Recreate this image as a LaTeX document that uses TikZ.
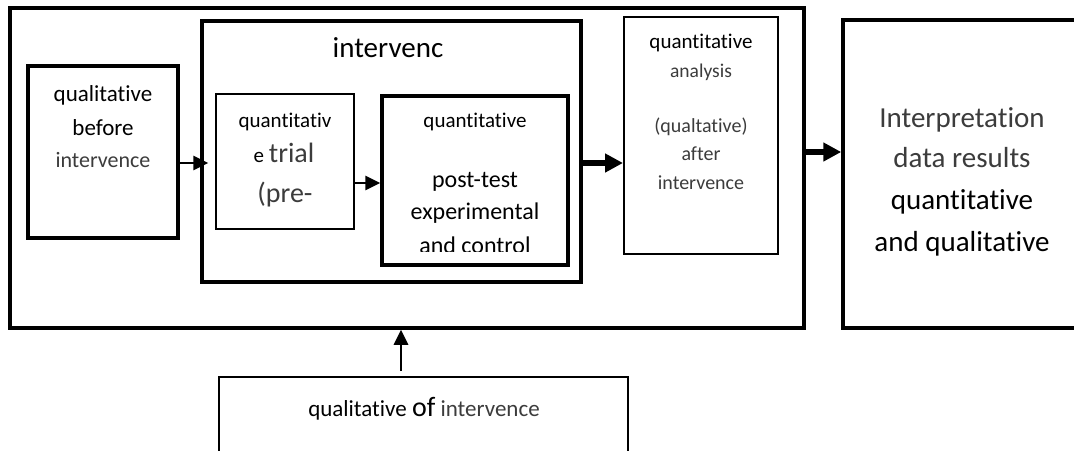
\documentclass[tikz,border=0pt]{standalone}
\usepackage{fontspec}
\setmainfont{Carlito}[Ligatures={NoCommon,NoRequired,NoContextual}]
\usetikzlibrary{arrows.meta}
\definecolor{txtgray}{RGB}{60,60,60}
\newcommand{\fsz}[1]{\fontsize{#1pt}{#1pt}\selectfont}
\begin{document}
\begin{tikzpicture}[x=1pt,y=-1pt,
  thickbox/.style={draw=black,line width=3.5pt,rectangle,inner sep=0pt},
  thinbox/.style={draw=black,line width=2pt,rectangle,inner sep=0pt},
  tx/.style={inner sep=0pt,anchor=base,text=black},
  gtx/.style={inner sep=0pt,anchor=base,text=txtgray},
  arrthin/.style={line width=2.8pt,-{Triangle[length=15pt,width=14pt]}},
  arrthick/.style={line width=5.5pt,-{Triangle[length=18pt,width=18pt]}}]
\useasboundingbox (0,0) rectangle (1074,450);
\fill[white] (0,0) rectangle (1074,450);
\clip (0,0) rectangle (1074,450);

% boxes
\node[thickbox,minimum width=794pt,minimum height=320pt] (outer) at (407,168) {};
\node[thickbox,minimum width=379pt,minimum height=261pt] (intv) at (391.5,151.5) {};
\node[thickbox,minimum width=150pt,minimum height=172pt] (b1) at (103,152) {};
\node[thinbox,minimum width=138pt,minimum height=135pt] (b2) at (285,161.5) {};
\node[thickbox,minimum width=186pt,minimum height=169pt] (pt) at (475,180.5) {};
\node[thinbox,minimum width=154pt,minimum height=237pt] (an) at (701,135.5) {};
\node[thickbox,minimum width=237pt,minimum height=308pt] (interp) at (961.5,174) {};
\node[thinbox,minimum width=409pt,minimum height=83pt] (bot) at (423.5,418.5) {};

% texts
\node[tx,font=\fsz{29}] (title) at (388,57) {intervenc};

\node[tx,font=\fsz{23}] (b1a) at (103,101) {qualitative};
\node[tx,font=\fsz{23}] (b1b) at (103,135) {before};
\node[gtx,font=\fsz{22}] (b1c) at (103,167) {intervence};

\node[tx,font=\fsz{21}] (b2a) at (285,127) {quantitativ};
\node[tx,font=\fsz{21}] (b2b) at (284,162) {e {\color{txtgray}\fsz{28}trial}};
\node[gtx,font=\fsz{28}] (b2c) at (285,202) {(pre-};

\node[tx,font=\fsz{21}] (pta) at (475,127) {quantitative};
\node[tx,font=\fsz{24}] (ptb) at (475,187) {post-test};
\node[tx,font=\fsz{24}] (ptc) at (475,219) {experimental};
\begin{scope}
\clip (382,96) rectangle (568,251.5);
\node[tx,font=\fsz{24}] (ptd) at (475,253) {and control};
\end{scope}

\node[tx,font=\fsz{21}] (ana) at (701,48) {quantitative};
\node[gtx,font=\fsz{19.5}] (anb) at (701,77) {analysis};
\node[gtx,font=\fsz{20}] (anc) at (701,132) {(qualtative)};
\node[gtx,font=\fsz{20}] (and) at (701,160) {after};
\node[gtx,font=\fsz{20}] (ane) at (701,189) {intervence};

\node[gtx,font=\fsz{29}] (ina) at (962,127) {Interpretation};
\node[gtx,font=\fsz{29}] (inb) at (962,167) {data results};
\node[tx,font=\fsz{29}] (inc) at (962,209) {quantitative};
\node[tx,font=\fsz{29}] (ind) at (962,251) {and qualitative};

\node[tx,font=\fsz{23}] (bt) at (424,416) {qualitative {\fsz{28}of} {\color{txtgray}intervence}};

% arrows
\draw[arrthin,shorten >=-8pt] ([yshift=-11pt]b1.east) -- ([yshift=-11pt]b1.east -| intv.west);
\draw[arrthin] ([yshift=-21.5pt]b2.east) -- ([yshift=-21.5pt]b2.east -| pt.west);
\draw[arrthick] ([yshift=-11.5pt]intv.east) -- ([yshift=-11.5pt]intv.east -| an.west);
\draw[arrthick] ([yshift=16pt]outer.east) -- ([yshift=16pt]outer.east -| interp.west);
\draw[arrthin,shorten <=5pt] ([xshift=-22.5pt]bot.north) -- ([xshift=-22.5pt]bot.north |- outer.south);
\end{tikzpicture}
\end{document}
